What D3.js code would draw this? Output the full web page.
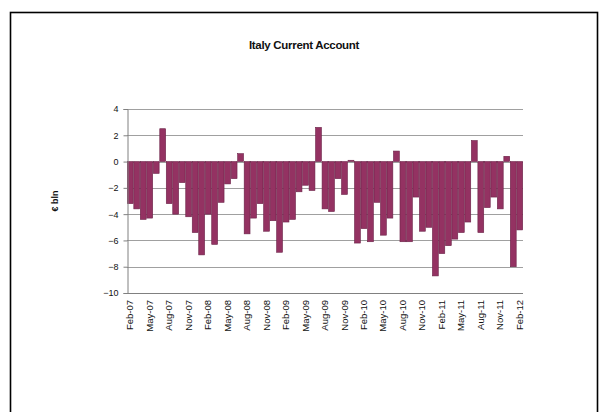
<!DOCTYPE html>
<html>
<head>
<meta charset="utf-8">
<script src="https://cdn.jsdelivr.net/npm/d3@7"></script>
<style>
  body { margin: 0; background: #fff; }
  svg { display: block; font-family: "Liberation Sans", Arial, sans-serif; }
</style>
</head>
<body>
<div id="chart"></div>
<script>
// monthly categories Feb-07 .. Feb-12
var months = d3.timeMonths(new Date(2007, 1, 1), new Date(2012, 2, 1));
var fmt = d3.timeFormat("%b-%y");

// current account, EUR bln
var values = [
  -3.2, -3.6, -4.4, -4.3, -0.9, 2.5, -3.2, -4.0, -1.6, -4.2, -5.4,
  -7.1, -4.0, -6.3, -3.1, -1.7, -1.3, 0.6, -5.5, -4.3, -3.2, -5.3, -4.5,
  -6.9, -4.6, -4.4, -2.3, -1.8, -2.2, 2.6, -3.6, -3.8, -1.3, -2.5, 0.1,
  -6.2, -5.1, -6.1, -3.1, -5.6, -4.3, 0.8, -6.1, -6.1, -2.7, -5.3, -5.0,
  -8.7, -7.0, -6.4, -5.9, -5.4, -4.6, 1.6, -5.4, -3.5, -2.7, -3.6, 0.4,
  -8.0, -5.2
];
var yTicks = [4, 2, 0, -2, -4, -6, -8, -10];

var W = 606, H = 412;
var plot = { left: 127, right: 523, top: 109, bottom: 293 };

var svg = d3.select("#chart").append("svg")
    .attr("width", W)
    .attr("height", H);

// chart frame
svg.append("rect")
    .attr("x", 10.5).attr("y", 12.5)
    .attr("width", 587).attr("height", 420)
    .attr("fill", "#fff")
    .attr("stroke", "#000")
    .attr("stroke-width", 1.6);

svg.append("text")
    .attr("x", 304).attr("y", 49)
    .attr("text-anchor", "middle")
    .style("font-size", "11.5px")
    .style("font-weight", "bold")
    .style("letter-spacing", "-0.3px")
    .attr("fill", "#111")
    .text("Italy Current Account");

var x = d3.scaleBand()
    .domain(months.map(fmt))
    .range([plot.left, plot.right])
    .paddingInner(0.1)
    .paddingOuter(0.05);

var y = d3.scaleLinear()
    .domain([-10, 4])
    .range([plot.bottom, plot.top]);

// gridlines
svg.append("g")
    .selectAll("line")
    .data(yTicks)
    .enter().append("line")
    .attr("x1", plot.left).attr("x2", plot.right)
    .attr("y1", function (d) { return Math.round(y(d)) + 0.5; })
    .attr("y2", function (d) { return Math.round(y(d)) + 0.5; })
    .attr("stroke", function (d) { return d === -10 ? "#808080" : "#a0a0a0"; })
    .attr("stroke-width", 1);

// bars
svg.append("g")
    .selectAll("rect")
    .data(values)
    .enter().append("rect")
    .attr("x", function (d, i) { return x(fmt(months[i])); })
    .attr("width", x.bandwidth())
    .attr("y", function (d) { return y(Math.max(0, d)); })
    .attr("height", function (d) { return Math.abs(y(d) - y(0)); })
    .attr("fill", "#943262")
    .attr("stroke", "#6a2146")
    .attr("stroke-width", 0.6);

// y axis
var yAxis = d3.axisLeft(y)
    .tickValues(yTicks)
    .tickSize(4)
    .tickPadding(5)
    .tickFormat(d3.format("d"));

var gy = svg.append("g")
    .attr("transform", "translate(" + (plot.left + 0.5) + ",0)")
    .call(yAxis);
gy.select(".domain").attr("stroke", "#808080");
gy.selectAll(".tick line").attr("stroke", "#808080");
gy.selectAll(".tick text")
    .style("font-size", "9px")
    .style("font-family", "Liberation Sans, Arial, sans-serif")
    .attr("fill", "#111");

// x labels, every third month
var xAxis = d3.axisBottom(x)
    .tickValues(months.filter(function (d, i) { return i % 3 === 0; }).map(fmt))
    .tickSize(0)
    .tickPadding(0);

var gx = svg.append("g")
    .attr("transform", "translate(0," + plot.bottom + ")")
    .call(xAxis);
gx.select(".domain").remove();
gx.selectAll(".tick text")
    .style("font-size", "9.5px")
    .style("font-family", "Liberation Sans, Arial, sans-serif")
    .attr("fill", "#111")
    .attr("text-anchor", "end")
    .attr("transform", "rotate(-90)")
    .attr("x", -7)
    .attr("y", 0)
    .attr("dy", "0.32em");

// y axis title
svg.append("text")
    .attr("transform", "translate(58," + (plot.top + plot.bottom) / 2 + ") rotate(-90)")
    .attr("text-anchor", "middle")
    .style("font-size", "9px")
    .style("font-weight", "bold")
    .attr("fill", "#111")
    .text("€ bln");
</script>
</body>
</html>
